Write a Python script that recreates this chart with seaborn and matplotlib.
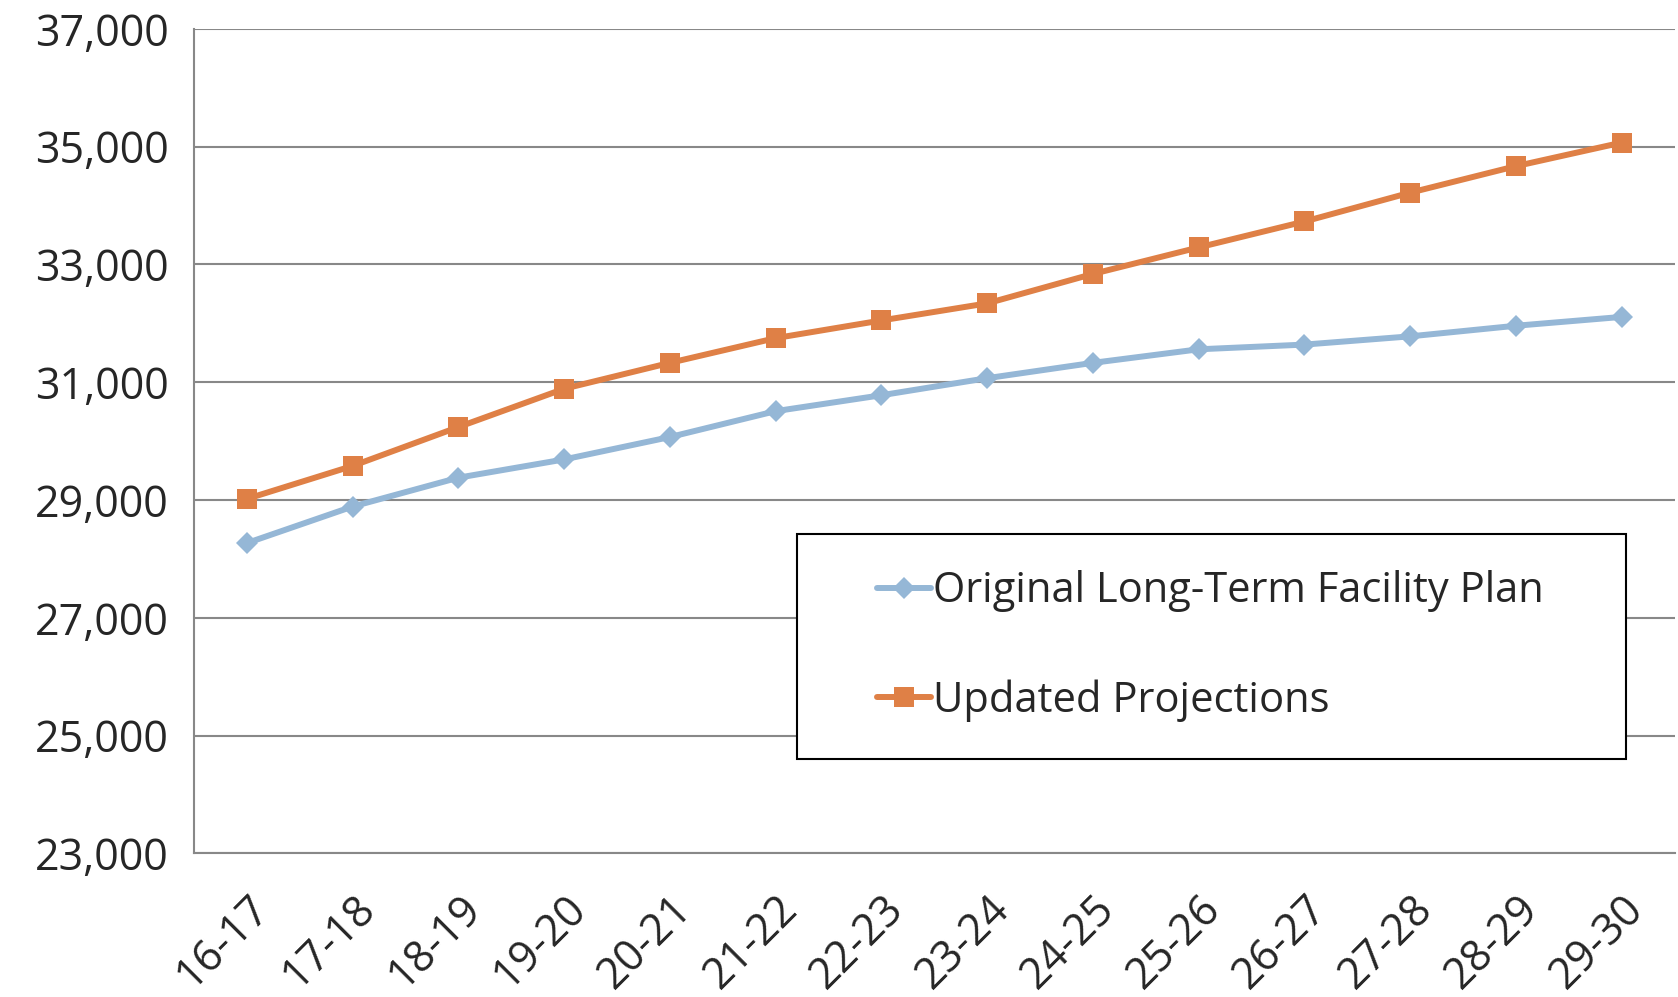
import pandas as pd
import matplotlib
matplotlib.use("Agg")
import matplotlib.pyplot as plt
from matplotlib.patches import Rectangle
import seaborn as sns

# school years and the two enrollment series
years = ["16-17", "17-18", "18-19", "19-20", "20-21", "21-22", "22-23",
         "23-24", "24-25", "25-26", "26-27", "27-28", "28-29", "29-30"]
original = [28270, 28890, 29380, 29690, 30070, 30510, 30780,
            31070, 31330, 31560, 31640, 31780, 31960, 32110]
updated = [29020, 29580, 30240, 30890, 31330, 31750, 32050,
           32340, 32840, 33290, 33730, 34220, 34670, 35070]

sns.set_style("white")
plt.rcParams['font.family'] = ['Open Sans', 'DejaVu Sans']

df = pd.DataFrame({
    "year": years * 2,
    "value": original + updated,
    "series": ["Original Long-Term Facility Plan"] * len(years) + ["Updated Projections"] * len(years),
})

fig, ax = plt.subplots(figsize=(16.78, 9.97), dpi=100)
fig.subplots_adjust(left=0.1156, right=0.998, top=0.971, bottom=0.144)

colors = {"Original Long-Term Facility Plan": "#95B7D6", "Updated Projections": "#DF8046"}
markers = {"Original Long-Term Facility Plan": "D", "Updated Projections": "s"}
sizes = {"Original Long-Term Facility Plan": 11, "Updated Projections": 14}

for name, grp in df.groupby("series", sort=False):
    sns.lineplot(data=grp, x="year", y="value", ax=ax, color=colors[name],
                 marker=markers[name], markersize=sizes[name], markeredgewidth=0,
                 linewidth=4.3, label=name)

ax.set_xlim(-0.5, len(years) - 0.5)
ax.set_ylim(23000, 37000)
ax.set_yticks(range(23000, 37001, 2000))
ax.set_yticklabels([f"{v:,}" for v in range(23000, 37001, 2000)], fontsize=31)
ax.set_xticks(range(len(years)))
ax.set_xticklabels(years, rotation=45, ha="right", rotation_mode="anchor", fontsize=31)
ax.set_xticks([i - 0.5 for i in range(len(years) + 1)], minor=True)
ax.tick_params(axis="x", which="major", length=0, pad=24)
ax.tick_params(axis="x", which="minor", length=12, width=1.5, color="#888888", direction="out")
ax.tick_params(axis="y", length=12, width=1.5, color="#888888", direction="out", pad=6)
ax.set_xlabel("")
ax.set_ylabel("")

ax.grid(axis="y", color="#888888", linewidth=1.5)
ax.set_axisbelow(True)
for side in ["top", "right"]:
    ax.spines[side].set_visible(False)
for side in ["left", "bottom"]:
    ax.spines[side].set_color("#888888")
    ax.spines[side].set_linewidth(1.5)

# legend box drawn separately so the entries can sit further in
ax.add_patch(Rectangle((0.407, 0.115), 0.56, 0.273, transform=ax.transAxes,
                       fill=True, facecolor="white", edgecolor="black",
                       linewidth=1.5, zorder=5))
leg = ax.legend(loc="center left", bbox_to_anchor=(0.461, 0.2515),
                fontsize=30, frameon=False,
                handlelength=1.3, handletextpad=0.05, labelspacing=1.6,
                borderpad=0, borderaxespad=0)
leg.set_zorder(6)

plt.savefig("out.png", dpi=100)
